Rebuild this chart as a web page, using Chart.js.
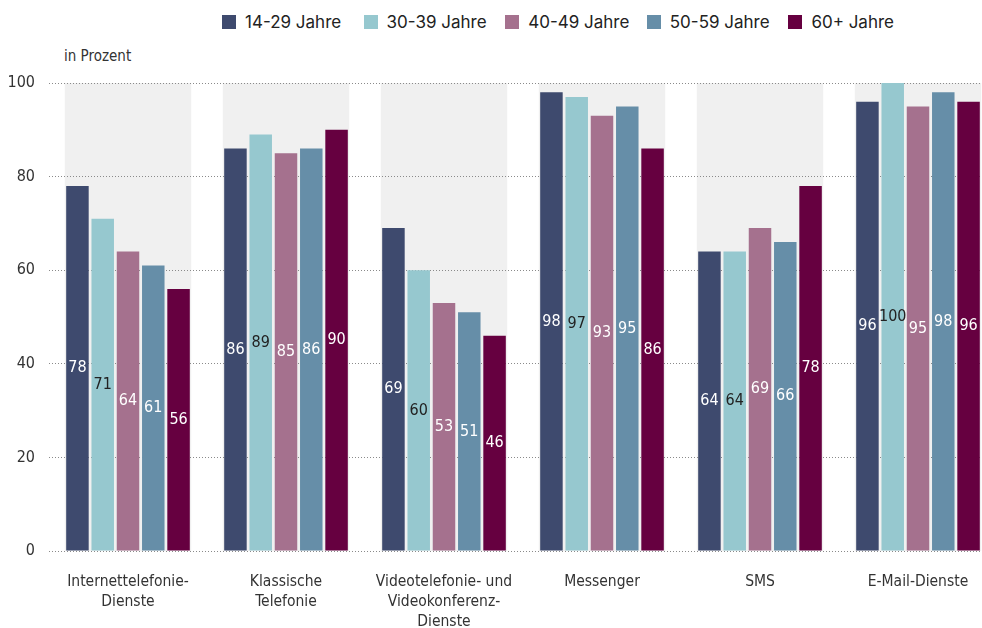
<!DOCTYPE html>
<html>
<head>
<meta charset="utf-8">
<script src="https://cdn.jsdelivr.net/npm/chart.js@4/dist/chart.umd.min.js"></script>
<style>
  html, body { margin: 0; padding: 0; background: #fff; overflow: hidden; }
  #wrap { position: relative; width: 982px; height: 628px; overflow: hidden; }
  #myChart { position: absolute; left: 0; top: 0; }
  #legend { position: absolute; left: 222px; top: 12px; display: flex; font-family: Inter, "DejaVu Sans", sans-serif; font-size: 17px; color: #222; }
  #legend .item { display: flex; align-items: center; width: 141.6px; white-space: nowrap; }
  #legend .box { width: 14px; height: 14px; margin-right: 9px; }
  #unit { position: absolute; left: 64px; top: 47px; font-family: "Liberation Sans Narrow", "DejaVu Sans Condensed", sans-serif; font-size: 15px; color: #333; }
</style>
</head>
<body>
<div id="wrap">
  <div id="legend"></div>
  <div id="unit">in Prozent</div>
  <canvas id="myChart" width="1000" height="628"></canvas>
</div>
<script>
const categories = [
  ["Internettelefonie-", "Dienste"],
  ["Klassische", "Telefonie"],
  ["Videotelefonie- und", "Videokonferenz-", "Dienste"],
  "Messenger",
  "SMS",
  "E-Mail-Dienste"
];
const seriesNames = ["14-29 Jahre", "30-39 Jahre", "40-49 Jahre", "50-59 Jahre", "60+ Jahre"];
const age14to29 = [78, 86, 69, 98, 64, 96];
const age30to39 = [71, 89, 60, 97, 64, 100];
const age40to49 = [64, 85, 53, 93, 69, 95];
const age50to59 = [61, 86, 51, 95, 66, 98];
const age60plus = [56, 90, 46, 86, 78, 96];
const yTicks = [0, 20, 40, 60, 80, 100];

const barColors = ["#3e4a6e", "#96c8cf", "#a5718e", "#668ea8", "#660040"];
const labelColors = ["#fff", "#222", "#fff", "#fff", "#fff"];
const allSeries = [age14to29, age30to39, age40to49, age50to59, age60plus];
const narrow = '"Liberation Sans Narrow", "DejaVu Sans Condensed", sans-serif';

// legend as html
const legendEl = document.getElementById('legend');
seriesNames.forEach((name, i) => {
  const item = document.createElement('div');
  item.className = 'item';
  item.innerHTML = '<span class="box" style="background:' + barColors[i] + '"></span><span>' + name + '</span>';
  legendEl.appendChild(item);
});

// grey band behind each group, drawn under the grid
const bandPlugin = {
  id: 'bands',
  beforeDraw(chart) {
    const x = chart.scales.x, y = chart.scales.y;
    const ctx = chart.ctx;
    const catW = x.width / categories.length;
    const w = catW * 0.8;
    ctx.save();
    ctx.fillStyle = '#f0f0f0';
    categories.forEach((c, i) => {
      const cx = x.getPixelForValue(i);
      const top = y.getPixelForValue(100);
      ctx.fillRect(cx - w / 2, top, w, y.getPixelForValue(0) - top);
    });
    ctx.restore();
  }
};

// value labels in the middle of each bar
const valuePlugin = {
  id: 'values',
  afterDatasetsDraw(chart) {
    const ctx = chart.ctx;
    ctx.save();
    ctx.font = '16px ' + narrow;
    ctx.textAlign = 'center';
    ctx.textBaseline = 'middle';
    chart.data.datasets.forEach((ds, di) => {
      chart.getDatasetMeta(di).data.forEach((bar, i) => {
        ctx.fillStyle = labelColors[di];
        ctx.fillText(ds.data[i], bar.x, (bar.y + bar.base) / 2);
      });
    });
    ctx.restore();
  }
};

const ctx = document.getElementById('myChart').getContext('2d');
new Chart(ctx, {
  type: 'bar',
  data: {
    labels: categories,
    datasets: seriesNames.map((name, i) => ({
      label: name,
      data: allSeries[i],
      backgroundColor: barColors[i],
      categoryPercentage: 0.8,
      barPercentage: 0.89
    }))
  },
  options: {
    responsive: false,
    animation: false,
    layout: { padding: { top: 83, right: 3, left: 0, bottom: 0 } },
    plugins: {
      legend: { display: false },
      tooltip: { enabled: false }
    },
    scales: {
      x: {
        grid: { display: false },
        border: { display: false },
        ticks: {
          color: '#333',
          padding: 13,
          font: { size: 15.5, family: narrow, lineHeight: 1.29 }
        },
        afterFit(scale) { scale.height = 77; }
      },
      y: {
        min: 0,
        max: 100,
        afterBuildTicks(scale) { scale.ticks = yTicks.map(v => ({ value: v })); },
        grid: { color: '#8a8a8a', lineWidth: 1, drawTicks: false },
        border: { display: false, dash: [1, 2] },
        ticks: {
          color: '#333',
          padding: 14,
          font: { size: 16, family: narrow }
        },
        afterFit(scale) { scale.width = 49; }
      }
    }
  },
  plugins: [bandPlugin, valuePlugin]
});
</script>
</body>
</html>
